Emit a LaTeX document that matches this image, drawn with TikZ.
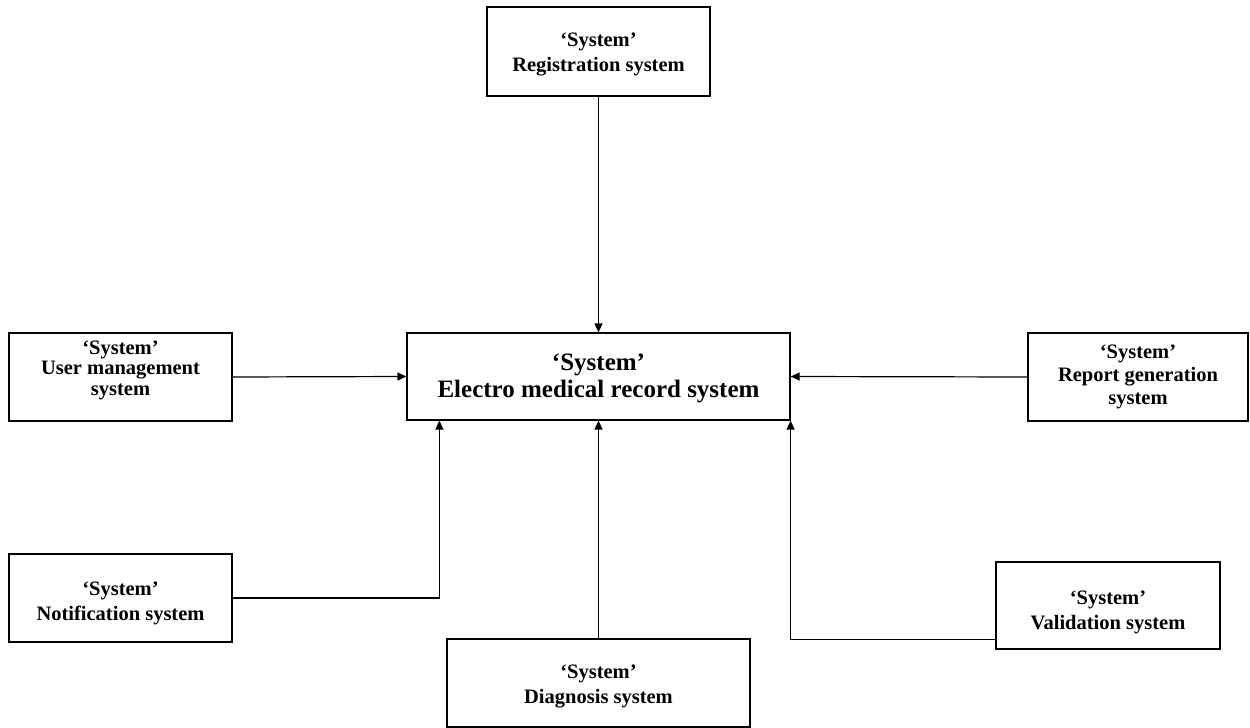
\documentclass[tikz,border=0pt]{standalone}
\usepackage{fontspec}
\setmainfont{Liberation Serif}
\usetikzlibrary{arrows.meta,calc}
\begin{document}
\begin{tikzpicture}[x=1pt,y=-1pt,
  sysbox/.style={draw=black,line width=1.2pt,fill=white,inner sep=0pt},
  smalltxt/.style={font=\bfseries\fontsize{20.5}{25}\selectfont,align=center,inner sep=0pt},
  bigtxt/.style={font=\bfseries\fontsize{25}{27}\selectfont,align=center,inner sep=0pt},
  conn/.style={line width=1.2pt,-{Triangle[length=9pt,width=8pt]}}]
\useasboundingbox (0,0) rectangle (1250,728);
% boxes
\node[sysbox,minimum width=223pt,minimum height=89pt] (reg) at (598.5,51.5) {};
\node[sysbox,minimum width=383pt,minimum height=87pt] (ems) at (598.5,376.5) {};
\node[sysbox,minimum width=223pt,minimum height=88pt] (um) at (120.5,377) {};
\node[sysbox,minimum width=220pt,minimum height=88pt] (rg) at (1138,377) {};
\node[sysbox,minimum width=223pt,minimum height=88pt] (nt) at (120.5,598) {};
\node[sysbox,minimum width=303pt,minimum height=88pt] (dg) at (598.5,683) {};
\node[sysbox,minimum width=224pt,minimum height=87pt] (vl) at (1108,605.5) {};
% texts
\node[smalltxt] (regt) at ($(reg.center)+(0,3)$) {‘System’\\Registration system};
\node[bigtxt] (emst) at ($(ems.center)+(0,1.5)$) {‘System’\\Electro medical record system};
\node[smalltxt,font=\bfseries\fontsize{20.5}{20.5}\selectfont] (umt) at ($(um.center)+(0,-7)$) {‘System’\\User management\\system};
\node[smalltxt,font=\bfseries\fontsize{20.5}{23}\selectfont] (rgt) at ($(rg.center)+(0,0)$) {‘System’\\Report generation\\system};
\node[smalltxt] (ntt) at ($(nt.center)+(0,5)$) {‘System’\\Notification system};
\node[smalltxt] (dgt) at ($(dg.center)+(0,3.5)$) {‘System’\\Diagnosis system};
\node[smalltxt] (vlt) at ($(vl.center)+(0,7)$) {‘System’\\Validation system};
% helper coordinates
\coordinate (ntin) at ($(ems.south west)+(33,0)$);
\coordinate (vlout) at ($(vl.south west)+(0,-10)$);
% connectors
\draw[conn] (reg.south) -- (ems.north);
\draw[conn] (um.east) -- (ems.west);
\draw[conn] (rg.west) -- (ems.east);
\draw[conn] (nt.east) -| (ntin);
\draw[conn] (dg.north) -- (ems.south);
\draw[conn] (vlout) -| (ems.south east);
\end{tikzpicture}
\end{document}
